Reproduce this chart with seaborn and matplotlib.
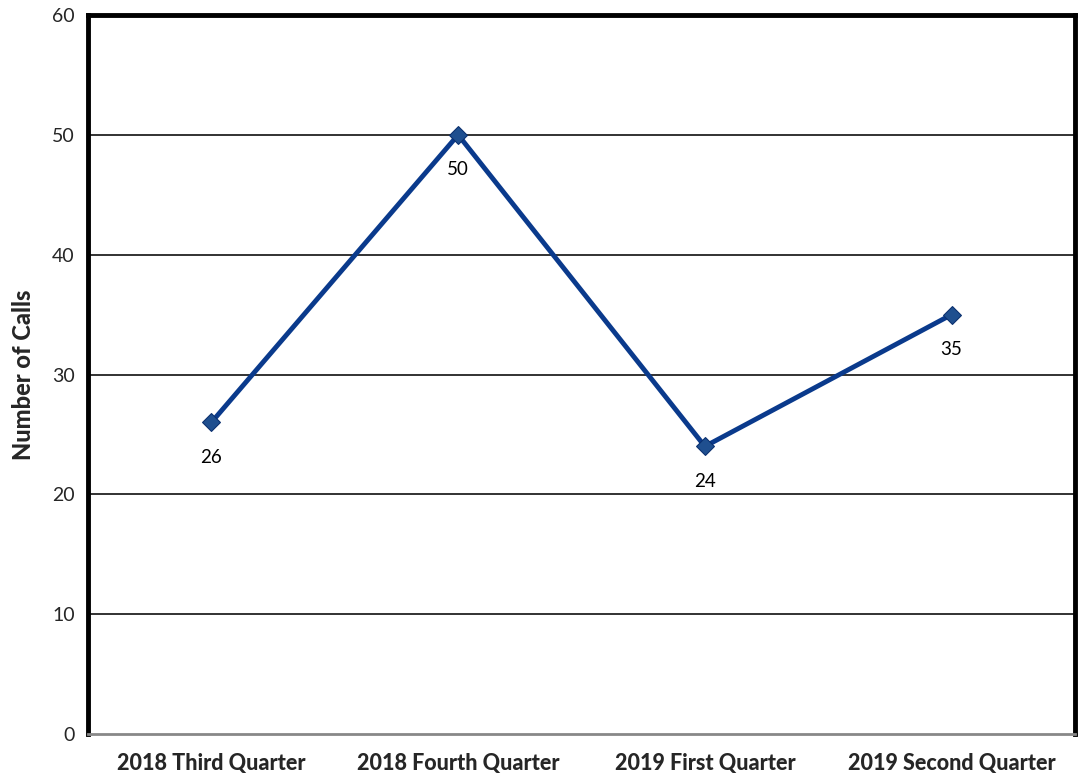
import matplotlib.pyplot as plt
import seaborn as sns
import pandas as pd

quarters = ['2018 Third Quarter', '2018 Fourth Quarter', '2019 First Quarter', '2019 Second Quarter']
calls = [26, 50, 24, 35]

df = pd.DataFrame({'quarter': quarters, 'calls': calls, 'pos': range(len(quarters))})

sns.set_style('white')
plt.rcParams['font.family'] = ['Lato', 'DejaVu Sans']

fig = plt.figure(figsize=(10.78, 7.80), dpi=100)
ax = fig.add_axes([88 / 1078, 1 - 734 / 780, (1075 - 88) / 1078, (734 - 15) / 780])

# linhas de grade
for y in range(10, 60, 10):
    ax.axhline(y, color='#222222', lw=1.3, zorder=1)

sns.lineplot(data=df, x='pos', y='calls', ax=ax, color='#0a3a8c', lw=3.5,
             marker='D', markersize=9, markerfacecolor='#1f4f8f',
             markeredgecolor='#0a2f6e', sort=False, zorder=3)

# rótulos dos valores
for p, v in zip(df['pos'], df['calls']):
    ax.annotate(str(v), (p, v), xytext=(0, -19), textcoords='offset points',
                ha='center', va='top', fontsize=13.5, color='black')

ax.set_xlim(-0.5, len(quarters) - 0.5)
ax.set_ylim(0, 60)
ax.set_yticks(range(0, 61, 10))
ax.set_xticks(range(len(quarters)))
ax.set_xticklabels(quarters, fontsize=15.5, fontweight='black')
ax.set_xticks([i - 0.5 for i in range(len(quarters) + 1)], minor=True)
ax.tick_params(axis='x', which='major', length=0, pad=14)
ax.tick_params(axis='x', which='minor', length=6, width=1.5, color='#999999', direction='out')
ax.tick_params(axis='y', length=6, width=1.5, color='black', labelsize=14, direction='out')
ax.set_xlabel('')
ax.set_ylabel('Number of Calls', fontsize=17, fontweight='black', labelpad=12)

for s in ['left', 'top', 'right']:
    ax.spines[s].set_color('black')
    ax.spines[s].set_linewidth(3.5)
ax.spines['bottom'].set_color('#888888')
ax.spines['bottom'].set_linewidth(2)

fig.savefig('out.png', dpi=100)
